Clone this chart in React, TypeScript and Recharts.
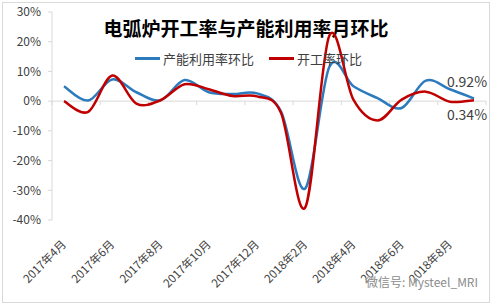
import React from "react";
import { LineChart, Line, XAxis, YAxis, Legend, ReferenceLine, LabelList } from "recharts";

const months = [
  "2017年4月", "2017年5月", "2017年6月", "2017年7月", "2017年8月", "2017年9月",
  "2017年10月", "2017年11月", "2017年12月", "2018年1月", "2018年2月", "2018年3月",
  "2018年4月", "2018年5月", "2018年6月", "2018年7月", "2018年8月", "2018年9月",
];
// 产能利用率环比 (%)
const capacityMoM = [5.0, 0.2, 7.3, 3.0, 0.3, 7.1, 3.0, 2.4, 2.6, -3.5, -29.4, 11.5, 5.0, 1.0, -2.3, 6.9, 4.0, 0.92];
// 开工率环比 (%)
const operatingMoM = [0.0, -3.6, 8.6, -0.8, 0.3, 5.7, 4.0, 1.7, 1.6, -4.0, -35.8, 22.0, 0.5, -6.5, 0.5, 3.2, -0.2, 0.34];
const yTicks = [-40, -30, -20, -10, 0, 10, 20, 30];

const data = months.map((month, i) => ({ month, capacity: capacityMoM[i], operating: operatingMoM[i] }));
const lastIdx = months.length - 1;

const BLUE = "#2b7bbd";
const RED = "#c00000";
const AXIS = "#d9d9d9";
const TEXT = "#404040";
const FONT = '"Noto Sans CJK SC", "Noto Sans", sans-serif';

// excel-ish smoothing, catmull-rom through every point
function excelSmooth(context: any) {
  let pts: number[][] = [];
  return {
    areaStart() {},
    areaEnd() {},
    lineStart() {
      pts = [];
    },
    lineEnd() {
      if (!pts.length) return;
      context.moveTo(pts[0][0], pts[0][1]);
      for (let i = 0; i < pts.length - 1; i++) {
        const p0 = pts[i - 1] || pts[i];
        const p1 = pts[i];
        const p2 = pts[i + 1];
        const p3 = pts[i + 2] || p2;
        context.bezierCurveTo(
          p1[0] + (p2[0] - p0[0]) / 6,
          p1[1] + (p2[1] - p0[1]) / 6,
          p2[0] - (p3[0] - p1[0]) / 6,
          p2[1] - (p3[1] - p1[1]) / 6,
          p2[0],
          p2[1]
        );
      }
    },
    point(x: number, y: number) {
      pts.push([+x, +y]);
    },
  };
}

function MonthTick({ x, y, payload }: any) {
  const ax = x + 3;
  const ay = y + 17;
  return (
    <text x={ax} y={ay} transform={`rotate(-45 ${ax} ${ay})`} textAnchor="end" fontSize={11.5} fill={TEXT} fontFamily={FONT}>
      {payload.value}
    </text>
  );
}

// zero line doubles as the category axis, with a tick every two months
function ZeroAxis(props: any) {
  const { x1, y1, x2 } = props;
  const step = (x2 - x1) / 9;
  return (
    <g>
      <line x1={x1} y1={y1} x2={x2} y2={y1} stroke={AXIS} />
      {Array.from({ length: 10 }, (_, i) => (
        <line key={i} x1={x1 + i * step} y1={y1} x2={x1 + i * step} y2={y1 + 4} stroke={AXIS} />
      ))}
    </g>
  );
}

const endLabel = (dy: number) => (props: any) =>
  props.index === lastIdx ? (
    <text x={props.x - 7} y={props.y + dy} textAnchor="middle" fontSize={14} fill={TEXT} fontFamily={FONT}>
      {`${props.value}%`}
    </text>
  ) : null;

function LegendContent({ payload }: any) {
  return (
    <div style={{ display: "flex", alignItems: "center", fontFamily: FONT, fontSize: 13, color: TEXT }}>
      {(payload || []).map((p: any) => (
        <div key={p.value} style={{ display: "flex", alignItems: "center", marginRight: 15 }}>
          <span style={{ display: "inline-block", width: 25, height: 3, background: p.color, marginRight: 3 }} />
          <span>{p.value}</span>
        </div>
      ))}
    </div>
  );
}

export default function App() {
  return (
    <div style={{ position: "absolute", left: 0, top: 0, width: 496, height: 305, background: "#fff" }}>
      <div style={{ position: "absolute", left: 2, top: 2, width: 486, height: 299, border: `1px solid ${AXIS}` }} />
      <div
        style={{
          position: "absolute",
          left: 0,
          width: 492,
          top: 14,
          textAlign: "center",
          fontFamily: FONT,
          fontWeight: 700,
          fontSize: 19,
          color: "#000",
          lineHeight: "28px",
        }}
      >
        电弧炉开工率与产能利用率月环比
      </div>
      <LineChart width={496} height={305} data={data} margin={{ top: 12, right: 10, bottom: 5, left: 0 }}>
        <XAxis
          dataKey="month"
          interval={1}
          padding={{ left: 12, right: 12 }}
          tick={<MonthTick />}
          tickLine={false}
          axisLine={false}
          height={80}
        />
        <YAxis
          domain={[-40, 30]}
          ticks={yTicks}
          tickFormatter={(v) => `${v}%`}
          width={52}
          tickSize={4}
          tickMargin={7}
          tickLine={{ stroke: AXIS }}
          axisLine={{ stroke: AXIS }}
          tick={{ fontSize: 12, fill: TEXT, fontFamily: FONT }}
        />
        <ReferenceLine y={0} shape={ZeroAxis} />
        <Legend
          layout="horizontal"
          verticalAlign="middle"
          align="center"
          content={<LegendContent />}
          wrapperStyle={{ top: 49, left: 135, width: "auto" }}
        />
        <Line
          dataKey="capacity"
          name="产能利用率环比"
          type={excelSmooth as any}
          stroke={BLUE}
          strokeWidth={2.5}
          dot={false}
          isAnimationActive={false}
        >
          <LabelList dataKey="capacity" content={endLabel(-11)} />
        </Line>
        <Line
          dataKey="operating"
          name="开工率环比"
          type={excelSmooth as any}
          stroke={RED}
          strokeWidth={2.5}
          dot={false}
          isAnimationActive={false}
        >
          <LabelList dataKey="operating" content={endLabel(20)} />
        </Line>
      </LineChart>
      <div
        style={{
          position: "absolute",
          left: 366,
          top: 273,
          fontFamily: FONT,
          fontSize: 12,
          color: "#8c8c8c",
          textShadow: "0 0 2px #fff",
        }}
      >
        微信号: Mysteel_MRI
      </div>
    </div>
  );
}
